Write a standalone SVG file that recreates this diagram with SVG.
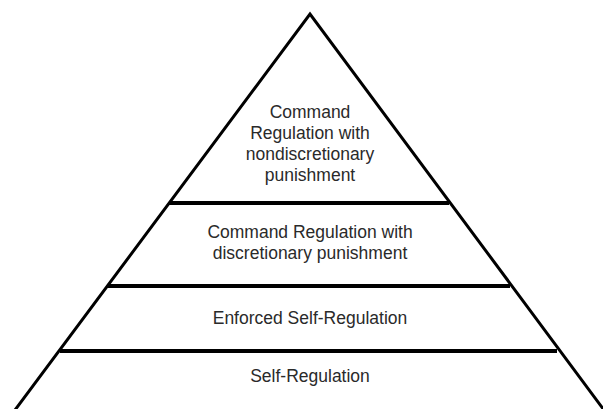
<svg xmlns="http://www.w3.org/2000/svg" width="603" height="409" viewBox="0 0 603 409">
  <style>
    .edge { fill: none; stroke: #000; stroke-width: 3; stroke-linejoin: miter; }
    .tier { stroke: #000; stroke-width: 4; }
    .lbl { font-family: "Liberation Sans", Arial, sans-serif; font-size: 17.5px; fill: #2a2a2a; text-anchor: middle; }
  </style>
  <rect width="603" height="409" fill="#fff"/>
  <g id="pyramid">
    <polyline class="edge" points="15,410 310,14 604,410"/>
  </g>
  <g id="connectors">
    <line class="tier" x1="169" y1="203" x2="449" y2="203"/>
    <line class="tier" x1="107" y1="286" x2="510" y2="286"/>
    <line class="tier" x1="60" y1="351" x2="557" y2="351"/>
  </g>
  <g id="tier-command-nondiscretionary">
    <text class="lbl" x="310" y="118">Command</text>
    <text class="lbl" x="310" y="139">Regulation with</text>
    <text class="lbl" x="310" y="160">nondiscretionary</text>
    <text class="lbl" x="310" y="181">punishment</text>
  </g>
  <g id="tier-command-discretionary">
    <text class="lbl" x="310" y="238">Command Regulation with</text>
    <text class="lbl" x="310" y="259">discretionary punishment</text>
  </g>
  <g id="tier-enforced">
    <text class="lbl" x="310" y="324">Enforced Self-Regulation</text>
  </g>
  <g id="tier-self">
    <text class="lbl" x="310" y="382">Self-Regulation</text>
  </g>
</svg>
